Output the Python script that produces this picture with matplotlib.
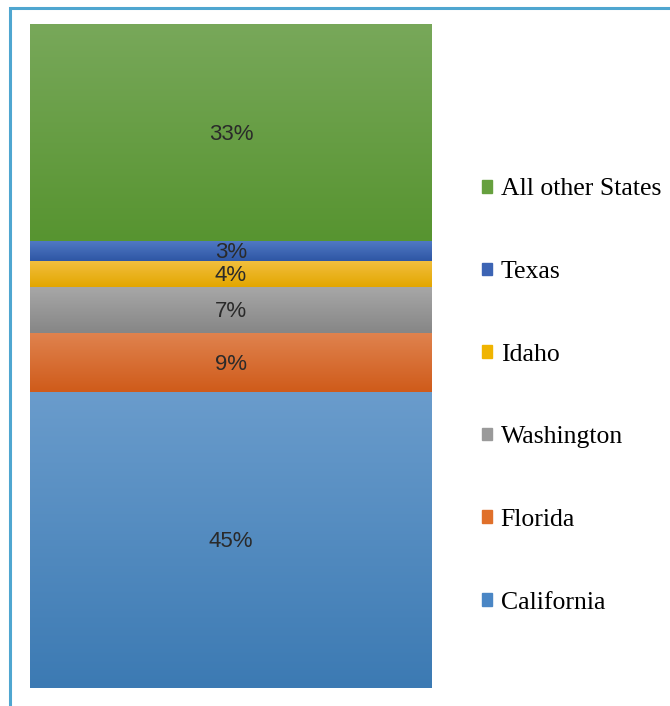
import numpy as np
import matplotlib
matplotlib.use("Agg")
import matplotlib.pyplot as plt
from matplotlib.patches import Rectangle
from matplotlib.colors import LinearSegmentedColormap

states = ["California", "Florida", "Washington", "Idaho", "Texas", "All other States"]
shares = [45, 9, 7, 4, 3, 33]
labels = ["45%", "9%", "7%", "4%", "3%", "33%"]
legend_colors = ["#4a86c5", "#e0702a", "#9a9a9a", "#f0b400", "#3c64b4", "#66a03e"]
grad_top = ["#6a9ccc", "#e0834f", "#a8a8a8", "#f2c040", "#5079c4", "#78a85a"]
grad_bot = ["#3c7ab3", "#cf5b1a", "#868686", "#e3a600", "#2e56a4", "#579430"]

W, H = 670, 706
fig = plt.figure(figsize=(W / 100, H / 100), dpi=100)
ax = fig.add_axes([30 / W, (706 - 688) / H, (432 - 30) / W, (688 - 24) / H])

total = sum(shares)
bars = []
bottom = 0
for s, v, c in zip(states, shares, legend_colors):
    b = ax.bar(0, v, bottom=bottom, width=1.0, color=c, label=s, linewidth=0)
    bars.append(b[0])
    bottom += v

# gradient overlay for each segment
grad = np.linspace(1, 0, 256).reshape(-1, 1)
for p, ct, cb in zip(bars, grad_top, grad_bot):
    x0, y0 = p.get_x(), p.get_y()
    w, h = p.get_width(), p.get_height()
    cmap = LinearSegmentedColormap.from_list("g", [cb, ct])
    ax.imshow(grad, cmap=cmap, extent=(x0, x0 + w, y0, y0 + h), aspect="auto",
              origin="upper", zorder=2, interpolation="bicubic")

ax.set_xlim(-0.5, 0.5)
ax.set_ylim(0, total)

for p, lab in zip(bars, labels):
    ax.text(p.get_x() + p.get_width() / 2, p.get_y() + p.get_height() / 2 - 0.25, lab,
            ha="center", va="center", fontsize=16, color="#2a2a2a",
            family="Liberation Sans", zorder=3)

ax.axis("off")

handles = [Rectangle((0, 0), 1, 1, color=c) for c in legend_colors][::-1]
leg = fig.legend(handles, states[::-1], loc="center left",
                 bbox_to_anchor=(469 / W, 1 - 396 / H), frameon=False,
                 prop={"family": "Liberation Serif", "size": 18.5},
                 handlelength=0.38, handleheight=0.38, handletextpad=0.35,
                 labelspacing=2.36, borderpad=0)

fig.patches.append(Rectangle((10 / W, -0.1), 1.2, 1 - 8 / H + 0.1,
                             transform=fig.transFigure, fill=False,
                             edgecolor="#4fa6d0", linewidth=2.2))

fig.savefig("out.png", dpi=100)
